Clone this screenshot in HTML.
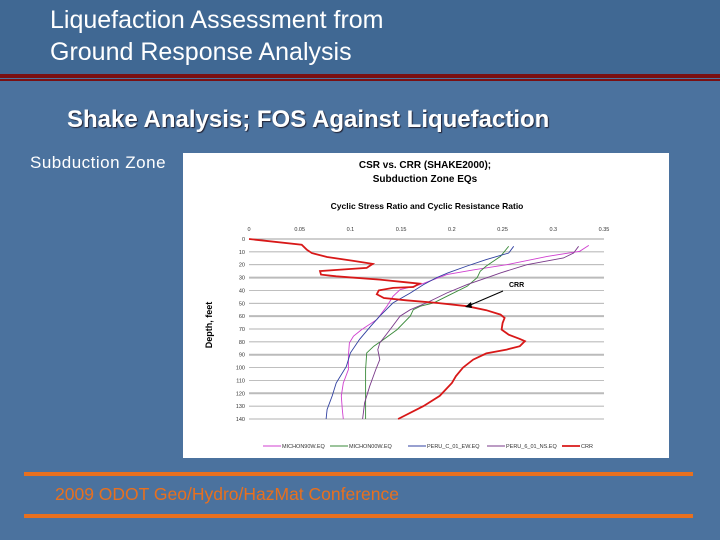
<!DOCTYPE html>
<html><head><meta charset="utf-8"><style>
html,body{margin:0;padding:0}
body{width:720px;height:540px;position:relative;overflow:hidden;background:#4b729e;font-family:"Liberation Sans",sans-serif}
.hdr{position:absolute;left:0;top:0;width:720px;height:74px;background:#406893}
.t{position:absolute;color:#fff}
</style></head><body>
<div class="hdr"></div>
<div class="t" style="left:50px;top:4px;font-size:25px;line-height:32px;">Liquefaction Assessment from<br>Ground Response Analysis</div>
<div style="position:absolute;left:0;top:74px;width:720px;height:4px;background:#7a0f12"></div>
<div style="position:absolute;left:0;top:79px;width:720px;height:2px;background:#7a0f12"></div>
<div class="t" style="left:67px;top:106px;font-size:24px;font-weight:bold;text-shadow:1px 1px 1px #223">Shake Analysis; FOS Against Liquefaction</div>
<div class="t" style="left:30px;top:153px;font-size:17px;letter-spacing:0.5px">Subduction Zone</div>
<div style="position:absolute;left:24px;top:472px;width:669px;height:4px;background:#e8701e"></div>
<div style="position:absolute;left:24px;top:514px;width:669px;height:4px;background:#e8701e"></div>
<div style="position:absolute;left:55px;top:484px;font-size:17.5px;color:#e8701e">2009 ODOT Geo/Hydro/HazMat Conference</div>

<svg style="position:absolute;left:183px;top:153px" width="486" height="305" viewBox="183 153 486 305">
<rect x="183" y="153" width="486" height="305" fill="#fff"/>
<text x="425" y="168" font-size="10" font-weight="bold" text-anchor="middle">CSR vs. CRR (SHAKE2000);</text>
<text x="425" y="182" font-size="10" font-weight="bold" text-anchor="middle">Subduction Zone EQs</text>
<text x="427" y="209" font-size="8.5" font-weight="bold" text-anchor="middle">Cyclic Stress Ratio and Cyclic Resistance Ratio</text>
<text x="212" y="325" font-size="9" font-weight="bold" text-anchor="middle" transform="rotate(-90 212 325)">Depth, feet</text>
<g id="grid"></g><g id="ticks"></g><g id="series"></g>
<text x="509" y="287" font-size="7" font-weight="bold">CRR</text>
<line x1="503" y1="291" x2="468" y2="306" stroke="#000" stroke-width="1"/>
<polygon points="465,307 471,302 472,308" fill="#000"/>
<g id="legend"></g>
</svg>
<script>
const xTicks=[0,0.05,0.1,0.15,0.2,0.25,0.3,0.35];
const yTicks=[0,10,20,30,40,50,60,70,80,90,100,110,120,130,140];
const seriesNames=["MICHON90W.EQ","MICHON00W.EQ","PERU_C_01_EW.EQ","PERU_6_01_NS.EQ","CRR"];
const seriesColors=["#d040d0","#3a8a3a","#3040a0","#7a3a8a","#d81818"];
const michon90wX=[0.335,0.326,0.294,0.254,0.221,0.195,0.182,0.169,0.149,0.142,0.136,0.126,0.111,0.103,0.099,0.098,0.098,0.093,0.091,0.092,0.093];
const michon90wD=[5,9.6,13.5,20,24,27.7,31.6,35.5,39.4,44.6,52.3,62.7,70.5,75.6,80.8,91,101.5,112,122,132.6,140];
const michon00wX=[0.256,0.248,0.234,0.228,0.225,0.215,0.195,0.182,0.169,0.162,0.159,0.146,0.133,0.123,0.116,0.115,0.115,0.115];
const michon00wD=[5.7,13.5,21,25,30,36.8,44.6,49.7,52.3,55,60,70.5,78,83.4,88.6,101.5,112,140];
const peruEwX=[0.261,0.256,0.234,0.215,0.196,0.185,0.172,0.159,0.142,0.129,0.12,0.109,0.1,0.096,0.086,0.082,0.077,0.076];
const peruEwD=[5.7,10.9,16,21,26.4,30,35.5,42,49.7,60,67.8,78,88.6,99,112,122,132.6,140];
const peruNsX=[0.325,0.32,0.31,0.274,0.248,0.235,0.215,0.195,0.175,0.159,0.149,0.139,0.129,0.127,0.129,0.125,0.119,0.114,0.112];
const peruNsD=[5.7,10.9,14.8,20,26.4,30,35.5,42,49.7,55,60,70.5,80.8,86,93.8,101.5,114.5,127.5,140];
const crrX=[0,0.052,0.057,0.062,0.077,0.103,0.122,0.116,0.087,0.07,0.071,0.086,0.129,0.155,0.168,0.162,0.142,0.128,0.126,0.133,0.155,0.185,0.215,0.234,0.248,0.252,0.25,0.249,0.256,0.267,0.272,0.267,0.254,0.234,0.221,0.211,0.204,0.2,0.188,0.172,0.147];
const crrD=[0,4.4,8.3,11,14,17,19.4,22.5,24,25,27.7,29,31.6,33.7,34.7,37.3,38,40,43,45.9,47.7,49.7,52.3,55.4,58.8,61.4,65.3,70.5,74.4,77.7,79.5,83.4,86,89,93.8,100,106.7,112,122,130,140];

const L=249,R=604,T=239,B=419;
const xs=v=>L+v/0.35*(R-L);
const ys=d=>T+d/140*(B-T);
const NS="http://www.w3.org/2000/svg";
function mk(tag,attrs,parent){const e=document.createElementNS(NS,tag);for(const k in attrs)e.setAttribute(k,attrs[k]);parent.appendChild(e);return e;}
const grid=document.getElementById('grid'),ticks=document.getElementById('ticks'),ser=document.getElementById('series'),leg=document.getElementById('legend');
yTicks.forEach(d=>{
  const g=mk('line',{x1:L,x2:R,y1:ys(d),y2:ys(d),stroke:d%30===0&&d>0?'#bbb':'#999','stroke-width':d%30===0&&d>0?2:0.7},grid);
  
  
  const t=mk('text',{x:L-4,y:ys(d)+2,'font-size':5.5,'text-anchor':'end',fill:'#333'},ticks);
  t.textContent=d;
  
  
});
mk('line',{x1:L,x2:R,y1:T,y2:T,stroke:'#999','stroke-width':0.7},grid);
xTicks.forEach(v=>{
  const t=mk('text',{x:xs(v),y:T-8,'font-size':5.5,'text-anchor':'middle',fill:'#333'},ticks);
  t.textContent=v;
  
  
});
const data=[[michon90wX,michon90wD],[michon00wX,michon00wD],[peruEwX,peruEwD],[peruNsX,peruNsD],[crrX,crrD]];
data.forEach((s,i)=>{
  const pts=s[0].map((v,j)=>xs(v).toFixed(1)+','+ys(s[1][j]).toFixed(1)).join(' ');
  const p=mk('polyline',{points:pts,fill:'none',stroke:seriesColors[i],'stroke-width':i===4?1.8:0.9},ser);
  
  
});
const legX=[263,330,408,487,562];
seriesNames.forEach((n,i)=>{
  const g=mk('g',{},leg);
  
  
  mk('line',{x1:legX[i],x2:legX[i]+18,y1:446,y2:446,stroke:seriesColors[i],'stroke-width':i===4?1.8:0.9},g);
  const t=mk('text',{x:legX[i]+19,y:448,'font-size':5.5,fill:'#333'},g);
  t.textContent=n;
});
</script>
</body></html>
